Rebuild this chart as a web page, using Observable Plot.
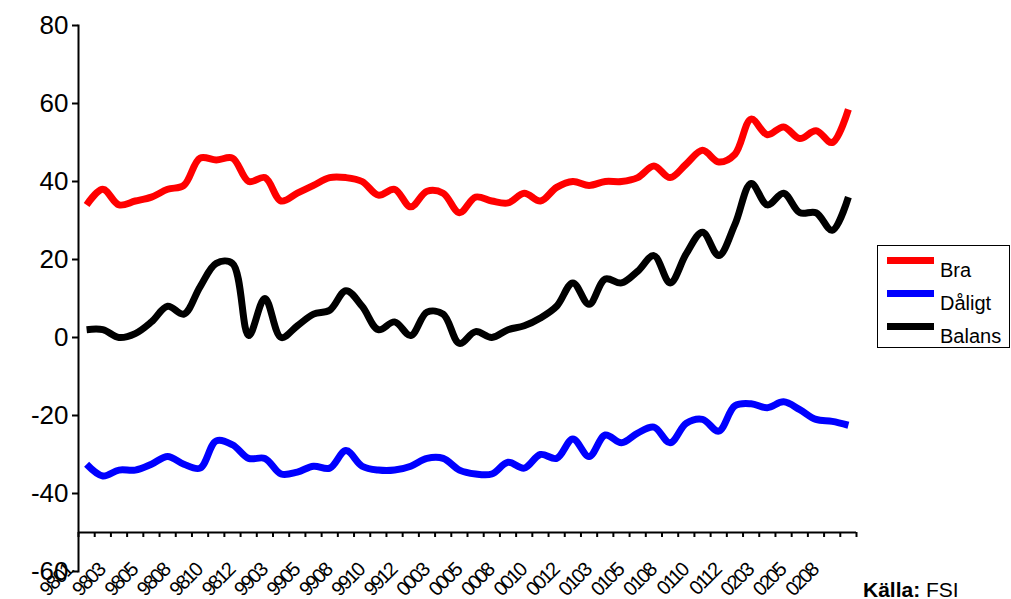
<!DOCTYPE html>
<html><head><meta charset="utf-8">
<script src="https://cdn.jsdelivr.net/npm/d3@7"></script>
<script src="https://cdn.jsdelivr.net/npm/@observablehq/plot@0.6"></script>
<style>
body{margin:0;background:#fff;font-family:"Liberation Sans",Arial,sans-serif;}
#wrap{position:relative;width:1011px;height:599px;overflow:hidden;background:#fff;}
#legend{position:absolute;left:877px;top:245px;width:131px;height:101px;border:1.5px solid #000;background:#fff;box-sizing:content-box;}
.item{position:absolute;left:9px;height:34px;width:125px;}
.sw{position:absolute;left:0;width:47px;height:7px;}
.lb{position:absolute;left:53px;font-size:20px;line-height:20px;color:#000;white-space:nowrap;}
#source{position:absolute;left:863px;top:579px;font-size:21px;line-height:22px;color:#000;white-space:nowrap;}
</style>
</head><body>
<div id="wrap"></div>
<script>
// ---- data ----
const months = ["9801","9802","9803","9804","9805","9806","9808","9809","9810","9811","9812","9902",
  "9903","9904","9905","9906","9908","9909","9910","9911","9912","0002","0003","0004",
  "0005","0006","0008","0009","0010","0011","0012","0102","0103","0104","0105","0106",
  "0108","0109","0110","0111","0112","0202","0203","0204","0205","0206","0208","0209"];
const tickLabels = ["9801","9803","9805","9808","9810","9812","9903","9905","9908","9910","9912","0003",
  "0005","0008","0010","0012","0103","0105","0108","0110","0112","0203","0205","0208"];
const bra = [34,38,34,35,36,38,39,46,45.5,46,40,41,35,37,39,41,41,40,36.5,38,33.5,37.5,37,32,
  36,35,34.5,37,35,38.5,40,39,40,40,41,44,41,44.5,48,45,47,56,52,54,51,53,50,58.5];
const daligt = [-32.5,-35.5,-34,-34,-32.5,-30.5,-32.5,-33.5,-26.5,-27.5,-31,-31,-35,-34.5,-33,-33.5,-29,-33,-34,-34,-33,-31,-31,-34,
  -35,-35,-32,-33.5,-30,-31,-26,-30.5,-25,-27,-24.5,-23,-27,-22,-21,-24,-17.5,-17,-18,-16.5,-18.5,-21,-21.5,-22.5];
const balans = [2,2,0,1,4,8,6,13,19,19,0.5,10,0,3,6,7,12,8,2,4,0.5,6.5,6,-1.5,
  1.5,0,2,3,5,8,14,8.5,15,14,17,21,14,21.5,27,21,29,39.5,34,37,32,32,27.5,36];
const seriesNames = ["Bra","Dåligt","Balans"];
const seriesColors = ["#ff0000","#0000ff","#000000"];
const yTicks = [-60,-40,-20,0,20,40,60,80];
const xAxisAt = -50;
const sourceBold = "Källa:";
const sourceText = " FSI";

// ---- build ----
const seriesValues = [bra, daligt, balans];
const rows = seriesNames.flatMap((s, k) => seriesValues[k].map((v, i) => ({series: s, i, month: months[i], value: v})));
const boundaries = d3.range(months.length + 1).map(i => i - 0.5);
const labelIdx = tickLabels.map(l => months.indexOf(l));

const chart = Plot.plot({
  width: 1011,
  height: 599,
  marginLeft: 78,
  marginRight: 155,
  marginTop: 25,
  marginBottom: 28,
  style: {fontFamily: '"Liberation Sans", Arial, sans-serif', background: "#fff", color: "#000", overflow: "visible"},
  x: {type: "linear", domain: [-0.5, months.length - 0.5], label: null},
  y: {domain: [-60, 80], label: null},
  color: {domain: seriesNames, range: seriesColors},
  marks: [
    Plot.frame({anchor: "left", stroke: "#000", strokeWidth: 2}),
    Plot.ruleY([xAxisAt], {stroke: "#000", strokeWidth: 2}),
    Plot.axisY({ticks: yTicks, tickSize: 6, tickPadding: 4, fontSize: 26, tickFormat: d => String(d), strokeWidth: 2, label: null}),
    Plot.axisX({ticks: boundaries, tickSize: 5, tickFormat: () => "", dy: -39, strokeWidth: 2, label: null}),
    Plot.text(labelIdx, {x: d => d, text: d => months[d], frameAnchor: "bottom", rotate: -45, textAnchor: "end", fontSize: 20, dx: -13, dy: 0, fill: "#000"}),
    Plot.line(rows, {x: "i", y: "value", z: "series", stroke: "series", curve: "catmull-rom", strokeWidth: 7, strokeLinejoin: "round", strokeLinecap: "butt"})
  ]
});
d3.select(chart).selectAll("text").filter(function() { return /rotate/.test(this.getAttribute("transform") || ""); })
  .style("letter-spacing", "-2px");
const wrap = document.getElementById("wrap");
wrap.appendChild(chart);

// legend
const legend = document.createElement("div");
legend.id = "legend";
seriesNames.forEach((s, k) => {
  const it = document.createElement("div");
  it.className = "item";
  it.style.top = (12 + k * 33) + "px";
  const sw = document.createElement("div");
  sw.className = "sw";
  sw.style.background = seriesColors[k];
  sw.style.top = "-1px";
  const lb = document.createElement("div");
  lb.className = "lb";
  lb.style.top = "2px";
  lb.textContent = s;
  it.appendChild(sw); it.appendChild(lb);
  legend.appendChild(it);
});
wrap.appendChild(legend);

const src = document.createElement("div");
src.id = "source";
const b = document.createElement("b");
b.textContent = sourceBold;
src.appendChild(b);
src.appendChild(document.createTextNode(sourceText));
wrap.appendChild(src);
</script>
</body></html>
